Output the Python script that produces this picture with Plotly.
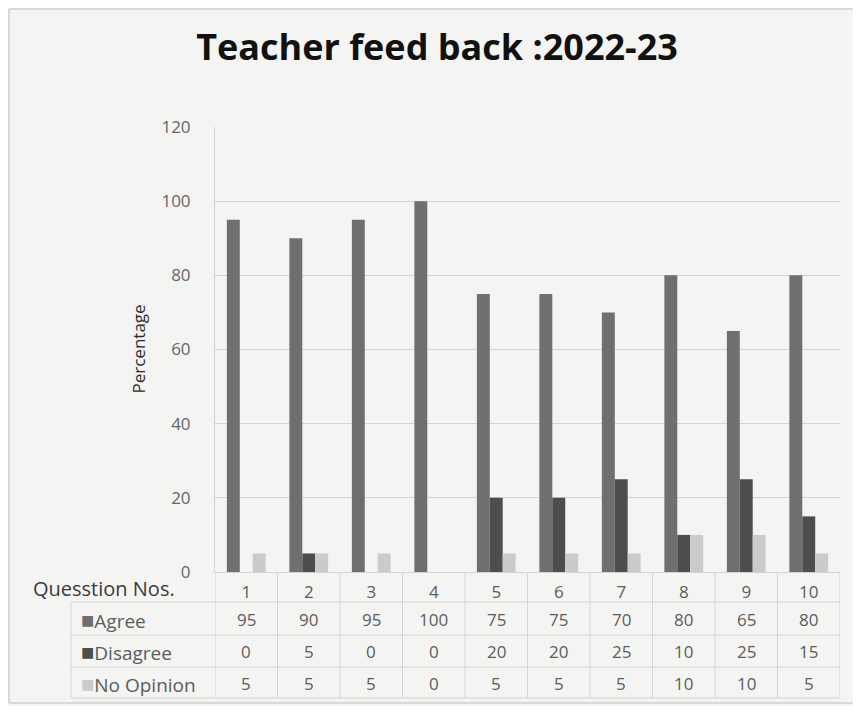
import plotly.graph_objects as go

questions = [1, 2, 3, 4, 5, 6, 7, 8, 9, 10]
agree = [95, 90, 95, 100, 75, 75, 70, 80, 65, 80]
disagree = [0, 5, 0, 0, 20, 20, 25, 10, 25, 15]
no_opinion = [5, 5, 5, 0, 5, 5, 5, 10, 10, 5]
series_names = ["Agree", "Disagree", "No Opinion"]
series_values = [agree, disagree, no_opinion]
colors = ["#6f6f6f", "#4b4e4b", "#cbcbcb"]
y_ticks = [0, 20, 40, 60, 80, 100, 120]

OFF = 8  # page body margin
W, H = 861 - OFF, 706 - OFF
# plot area in screen pixels
SX0, SX1, SY0, SY1 = 215, 840, 127, 572
L, R, T, B = SX0 - OFF, W - (SX1 - OFF), SY0 - OFF, H - (SY1 - OFF)
PW, PH = SX1 - SX0, SY1 - SY0

def px_x(p):
    return (p - SX0) / PW

def px_y(p):
    return (SY1 - p) / PH

FONT = "Open Sans"
GRAY = "#5c5c5c"
LINE = "#d4d4d4"

fig = go.Figure()
for name, vals, c in zip(series_names, series_values, colors):
    fig.add_trace(go.Bar(x=questions, y=vals, name=name, marker_color=c,
                         marker_line_width=0, showlegend=False))

shapes = []
annotations = []

row_centers = [619, 651, 683]
row_lines = [602, 635, 667, 698]
for yl in row_lines:
    shapes.append(dict(type="line", xref="paper", yref="paper",
                       x0=px_x(71), x1=1, y0=px_y(yl), y1=px_y(yl),
                       line=dict(color=LINE, width=1)))
shapes.append(dict(type="line", xref="paper", yref="paper",
                   x0=px_x(71), x1=px_x(71), y0=px_y(602), y1=px_y(698),
                   line=dict(color=LINE, width=1)))
for q in questions + [0]:
    shapes.append(dict(type="line", xref="x", yref="paper",
                       x0=q + 0.5, x1=q + 0.5, y0=0, y1=px_y(698),
                       line=dict(color=LINE, width=1)))

for name, vals, c, yc in zip(series_names, series_values, colors, row_centers):
    annotations.append(dict(xref="paper", yref="paper", x=px_x(79), y=px_y(yc),
                            xanchor="left", yanchor="middle", showarrow=False,
                            text=f"<span style='color:{c};font-size:22px'>■</span>{name}",
                            font=dict(family=FONT, size=19, color=GRAY)))
    for q, v in zip(questions, vals):
        annotations.append(dict(xref="x", yref="paper", x=q, y=px_y(yc),
                                xanchor="center", yanchor="middle", showarrow=False,
                                text=str(v),
                                font=dict(family=FONT, size=17, color=GRAY)))

annotations.append(dict(xref="paper", yref="paper", x=px_x(177), y=px_y(588),
                        xanchor="right", yanchor="middle", showarrow=False,
                        text="Quesstion Nos.",
                        font=dict(family=FONT, size=20, color="#3a3a3a")))
annotations.append(dict(xref="paper", yref="paper", x=px_x(138), y=0.5,
                        xanchor="center", yanchor="middle", showarrow=False,
                        textangle=-90, text="Percentage",
                        font=dict(family=FONT, size=17, color="#2a2a2a")))

# outer chart border
shapes.append(dict(type="rect", xref="paper", yref="paper",
                   x0=px_x(OFF + 1), x1=px_x(856), y0=px_y(703), y1=px_y(OFF + 1),
                   line=dict(color="#bdbdbd", width=1), layer="below"))

fig.update_layout(
    width=W, height=H,
    margin=dict(l=L, r=R, t=T, b=B, pad=0),
    paper_bgcolor="#f4f4f2", plot_bgcolor="#f4f4f2",
    barmode="group", bargap=0.38, bargroupgap=0,
    title=dict(text="<b>Teacher feed back :2022-23</b>", x=(437 - OFF) / W, xanchor="center",
               y=1 - (47 - OFF) / H, yanchor="middle",
               font=dict(family=FONT, size=36, color="#111111")),
    shapes=shapes, annotations=annotations,
)
fig.update_xaxes(range=[0.5, 10.5], tickvals=questions, ticktext=[str(q) for q in questions],
                 ticks="", showgrid=False, zeroline=False, showline=True,
                 linecolor=LINE, ticklabelstandoff=5,
                 tickfont=dict(family=FONT, size=17, color=GRAY))
fig.update_yaxes(range=[0, 120], tickvals=y_ticks, showgrid=True, gridcolor=LINE,
                 zeroline=False, showline=True, linecolor=LINE, ticks="",
                 ticklabelstandoff=20,
                 tickfont=dict(family=FONT, size=17, color="#666666"))

fig.write_html("out.html")
